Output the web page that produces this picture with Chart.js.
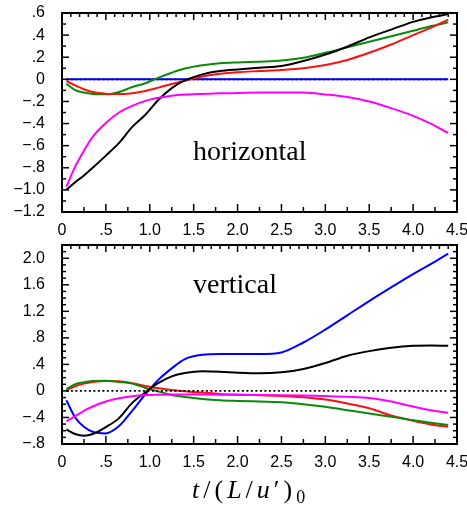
<!DOCTYPE html>
<html>
<head>
<meta charset="utf-8">
<script src="https://cdn.jsdelivr.net/npm/chart.js@4.4.1/dist/chart.umd.min.js"></script>
<style>
  body { margin: 0; background: #fff; }
  #wrap { position: relative; width: 467px; height: 514px; overflow: hidden; }
  canvas { position: absolute; left: 0; }
  .overlay { pointer-events: none; }
  .lbl { position: absolute; font-family: "Liberation Serif", serif; font-size: 28px; line-height: 28px; color: #000; white-space: nowrap; }
  #xtitle { position: absolute; font-family: "Liberation Serif", serif; font-size: 26px; line-height: 26px; letter-spacing: 4px; white-space: nowrap; }
  #xtitle sub { font-size: 18px; font-style: normal; vertical-align: -5px; }
</style>
</head>
<body>
<div id="wrap">
  <canvas id="top" width="467" height="240" style="top:0"></canvas>
  <canvas id="bottom" width="467" height="274" style="top:240px"></canvas>
  <canvas id="topFrame" class="overlay" width="467" height="240" style="top:0"></canvas>
  <canvas id="bottomFrame" class="overlay" width="467" height="274" style="top:240px"></canvas>
  <div class="lbl" style="left:193px; top:137px">horizontal</div>
  <div class="lbl" style="left:193px; top:270px">vertical</div>
  <div id="xtitle" style="left:192px; top:477px"><i>t</i>/(<i>L</i>/<i>u</i>′)<sub>0</sub></div>
</div>
<script>
'use strict';

//---------------------- data -------------------
let tGrid = [0.05, 0.15, 0.25, 0.35, 0.5, 0.65, 0.8, 0.95, 1.1, 1.25, 1.4, 1.6,
  1.8, 2.0, 2.25, 2.5, 2.75, 3.0, 3.25, 3.5, 3.75, 4.0, 4.2, 4.4];

// horizontal panel
let hBlack = [-1.0, -0.93, -0.87, -0.80, -0.69, -0.575, -0.43, -0.32, -0.185, -0.08, -0.01, 0.045,
  0.075, 0.09, 0.105, 0.12, 0.165, 0.225, 0.295, 0.38, 0.45, 0.52, 0.56, 0.59];
let hRed = [-0.015, -0.055, -0.09, -0.115, -0.13, -0.133, -0.125, -0.105, -0.075, -0.042, -0.012, 0.025,
  0.05, 0.065, 0.075, 0.085, 0.1, 0.13, 0.175, 0.24, 0.315, 0.4, 0.465, 0.54];
let hGreen = [-0.04, -0.097, -0.12, -0.132, -0.136, -0.115, -0.07, -0.035, 0.015, 0.06, 0.098, 0.128,
  0.145, 0.153, 0.16, 0.17, 0.195, 0.24, 0.29, 0.34, 0.39, 0.44, 0.48, 0.515];
let hMagenta = [-0.97, -0.79, -0.645, -0.52, -0.395, -0.30, -0.24, -0.195, -0.167, -0.148, -0.138, -0.132,
  -0.127, -0.124, -0.12, -0.118, -0.12, -0.137, -0.16, -0.2, -0.26, -0.33, -0.4, -0.485];
let hBlue = [0, 0, 0, 0, 0, 0, 0, 0, 0, 0, 0, 0, 0, 0, 0, 0, 0, 0, 0, 0, 0, 0, 0, 0];

// vertical panel
let vBlack = [-0.58, -0.65, -0.675, -0.65, -0.545, -0.41, -0.18, -0.02, 0.12, 0.22, 0.27, 0.295,
  0.29, 0.275, 0.265, 0.28, 0.33, 0.42, 0.53, 0.60, 0.65, 0.68, 0.685, 0.68];
let vRed = [0.01, 0.07, 0.11, 0.135, 0.148, 0.145, 0.115, 0.075, 0.04, 0.015, -0.005, -0.025,
  -0.045, -0.055, -0.065, -0.075, -0.095, -0.13, -0.19, -0.26, -0.37, -0.45, -0.505, -0.54];
let vGreen = [0.03, 0.1, 0.13, 0.148, 0.155, 0.135, 0.11, 0.045, -0.01, -0.06, -0.09, -0.12,
  -0.14, -0.15, -0.16, -0.17, -0.2, -0.24, -0.29, -0.34, -0.39, -0.44, -0.48, -0.515];
let vMagenta = [-0.46, -0.38, -0.30, -0.235, -0.16, -0.11, -0.08, -0.063, -0.057, -0.055, -0.055, -0.055,
  -0.057, -0.06, -0.062, -0.065, -0.07, -0.078, -0.088, -0.105, -0.16, -0.235, -0.29, -0.33];
let vBlue = [-0.14, -0.40, -0.54, -0.615, -0.64, -0.53, -0.30, -0.05, 0.17, 0.34, 0.48, 0.545,
  0.555, 0.555, 0.555, 0.58, 0.73, 0.925, 1.14, 1.355, 1.56, 1.76, 1.91, 2.07];

let zeroLine = [0, 0, 0, 0, 0, 0, 0, 0, 0, 0, 0, 0, 0, 0, 0, 0, 0, 0, 0, 0, 0, 0, 0, 0];

// ticks
let xTicks = [0, 0.5, 1.0, 1.5, 2.0, 2.5, 3.0, 3.5, 4.0, 4.5];
let yTicksTop = [-1.2, -1.0, -0.8, -0.6, -0.4, -0.2, 0, 0.2, 0.4, 0.6];
let yTicksBottom = [-0.8, -0.4, 0, 0.4, 0.8, 1.2, 1.6, 2.0];

//---------------------- helpers -------------------
function points(ys) {
  return tGrid.map((t, i) => ({ x: t, y: ys[i] }));
}

function fmtTick(v) {
  if (Math.abs(v) < 1e-9) return '0';
  let s = Math.abs(v).toFixed(1);
  if (s.charAt(0) === '0') s = s.slice(1);
  return (v < 0 ? '\u2212' : '') + s;
}

function line(label, ys, color) {
  return {
    label: label,
    data: points(ys),
    borderColor: color,
    borderWidth: 2,
    pointRadius: 0,
    fill: false,
    cubicInterpolationMode: 'monotone'
  };
}

function zeroDots() {
  return {
    label: 'zero',
    data: points(zeroLine),
    borderColor: '#000',
    borderWidth: 1.8,
    borderDash: [2, 2.5],
    pointRadius: 0,
    fill: false
  };
}

function seg(ctx, x1, y1, x2, y2) {
  ctx.beginPath();
  ctx.moveTo(x1, y1);
  ctx.lineTo(x2, y2);
  ctx.stroke();
}

// frame + inward ticks, drawn on an overlay canvas from the chart's own scales
function drawFrame(canvasId, chart, yMajor, yMinor) {
  let ctx = document.getElementById(canvasId).getContext('2d');
  let a = chart.chartArea;
  let x = chart.scales.x;
  let y = chart.scales.y;
  ctx.setLineDash([]);
  ctx.strokeStyle = '#000';
  ctx.lineWidth = 1.5;
  let n = Math.round((y.max - y.min) / yMinor);
  for (let i = 0; i <= n; i++) {
    let v = y.min + i * yMinor;
    let py = y.getPixelForValue(v);
    let major = yMajor.some(m => Math.abs(m - v) < 1e-6);
    let len = major ? 7 : 4;
    seg(ctx, a.left, py, a.left + len, py);
    seg(ctx, a.right, py, a.right - len, py);
  }
  n = Math.round((x.max - x.min) / 0.1);
  for (let i = 0; i <= n; i++) {
    let px = x.getPixelForValue(x.min + i * 0.1);
    seg(ctx, px, a.top, px, a.top + ((i % 5) === 0 ? 7 : 4));
  }
  n = Math.round((x.max - x.min) / 0.25);
  for (let i = 0; i <= n; i++) {
    let px = x.getPixelForValue(x.min + i * 0.25);
    seg(ctx, px, a.bottom, px, a.bottom - ((i % 2) === 0 ? 8 : 5));
  }
  ctx.lineWidth = 2;
  ctx.strokeRect(a.left, a.top, a.right - a.left, a.bottom - a.top);
}

function makeOptions(yMin, yMax, yTicks, topPad, xHeight) {
  return {
    responsive: false,
    animation: false,
    layout: { padding: { top: topPad, right: 10, left: 0, bottom: 0 } },
    plugins: {
      legend: { display: false },
      tooltip: { enabled: false }
    },
    scales: {
      x: {
        type: 'linear',
        min: 0,
        max: 4.5,
        grid: { display: false, drawTicks: false },
        border: { display: false },
        afterBuildTicks: (scale) => { scale.ticks = xTicks.map(v => ({ value: v })); },
        afterFit: (scale) => {
          scale.height = xHeight;
          scale.paddingLeft = 0;
          scale.paddingRight = 0;
        },
        ticks: {
          padding: 9,
          maxRotation: 0,
          autoSkip: false,
          color: '#000',
          font: { family: 'Liberation Sans', size: 16 },
          callback: (v) => fmtTick(v)
        }
      },
      y: {
        min: yMin,
        max: yMax,
        grid: { display: false, drawTicks: false },
        border: { display: false },
        afterBuildTicks: (scale) => { scale.ticks = yTicks.map(v => ({ value: v })); },
        afterFit: (scale) => {
          scale.width = 62;
          scale.paddingTop = 0;
          scale.paddingBottom = 0;
        },
        ticks: {
          padding: 17,
          autoSkip: false,
          color: '#000',
          font: { family: 'Liberation Sans', size: 16 },
          callback: (v) => fmtTick(v)
        }
      }
    }
  };
}

//---------------------- charts -------------------
let topChart = new Chart(document.getElementById('top').getContext('2d'), {
  type: 'line',
  data: {
    datasets: [
      line('magenta', hMagenta, '#ff00ff'),
      line('black', hBlack, '#000000'),
      line('red', hRed, '#ff1010'),
      line('green', hGreen, '#0a8a0a'),
      line('blue', hBlue, '#0000ff'),
      zeroDots()
    ]
  },
  options: makeOptions(-1.2, 0.6, yTicksTop, 13, 28)
});

let bottomChart = new Chart(document.getElementById('bottom').getContext('2d'), {
  type: 'line',
  data: {
    datasets: [
      zeroDots(),
      line('magenta', vMagenta, '#ff00ff'),
      line('black', vBlack, '#000000'),
      line('green', vGreen, '#0a8a0a'),
      line('red', vRed, '#ff1010'),
      line('blue', vBlue, '#0000ff')
    ]
  },
  options: makeOptions(-0.8, 2.2, yTicksBottom, 5, 70)
});

drawFrame('topFrame', topChart, yTicksTop, 0.1);
drawFrame('bottomFrame', bottomChart, yTicksBottom, 0.1);
</script>
</body>
</html>
